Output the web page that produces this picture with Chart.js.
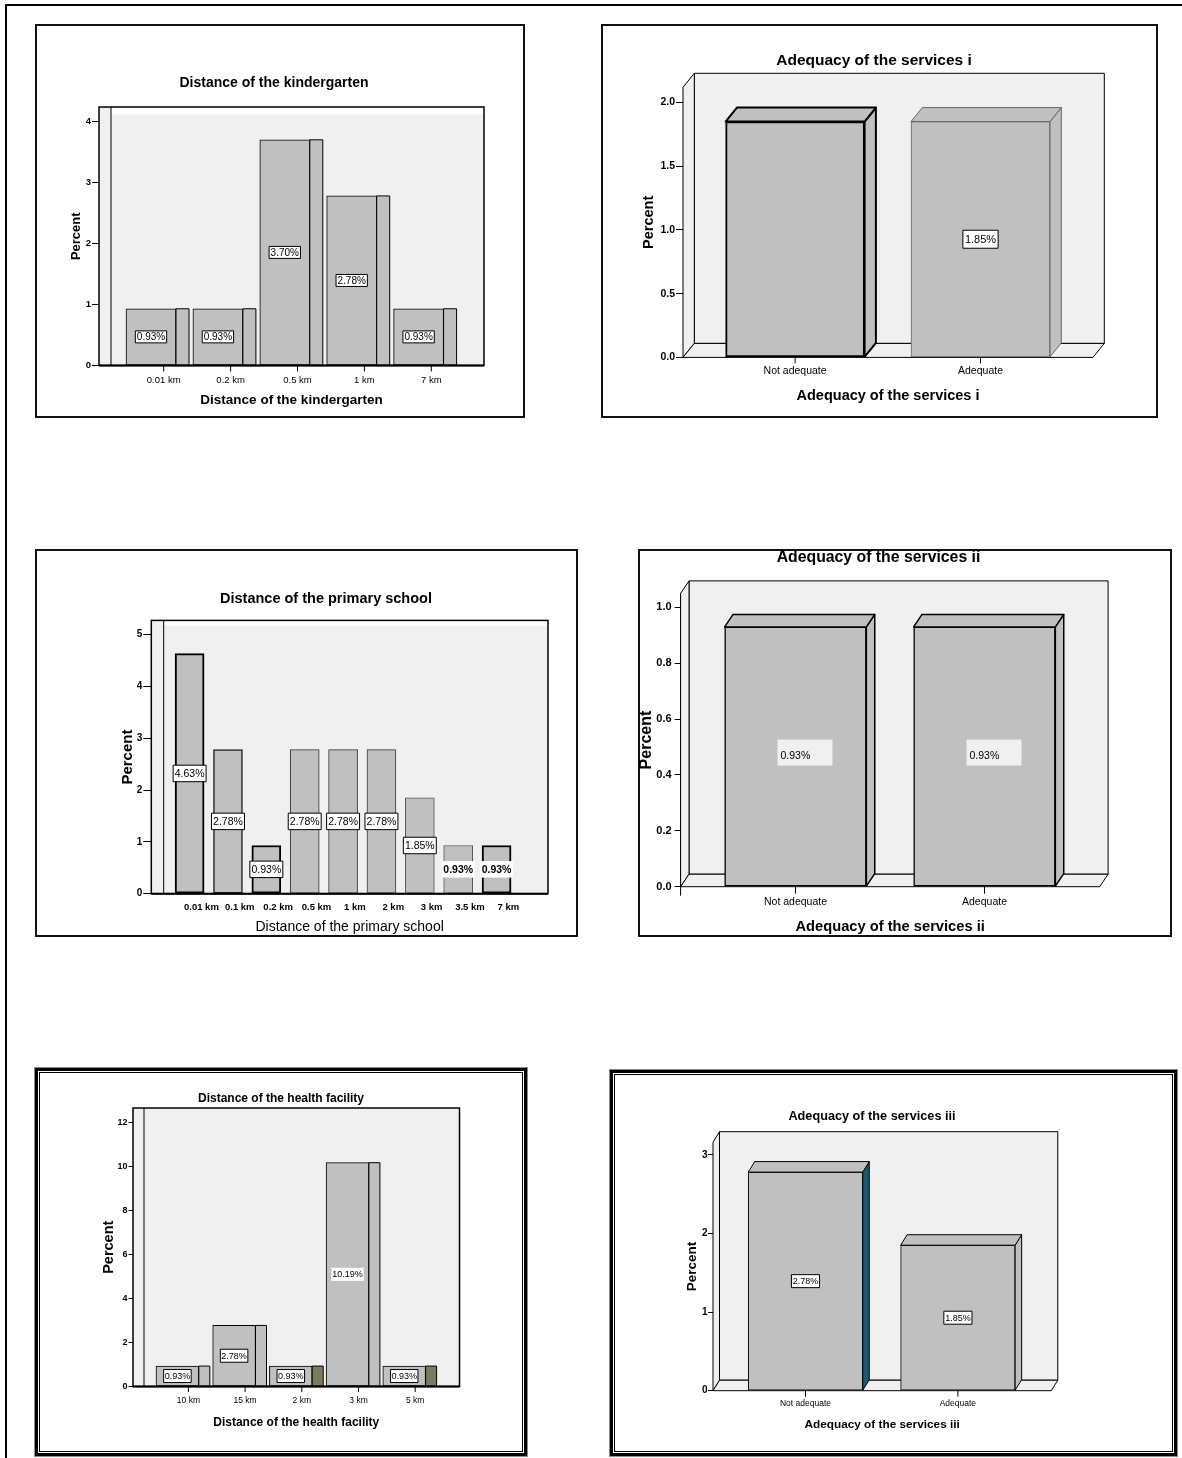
<!DOCTYPE html>
<html>
<head>
<meta charset="utf-8">
<script src="https://cdn.jsdelivr.net/npm/chart.js@4.4.1/dist/chart.umd.min.js"></script>
<style>
  body { margin: 0; background: #fff; width: 1182px; height: 1458px; overflow: hidden; position: relative; }
  .line { position: absolute; background: #000; }
  .box { position: absolute; box-sizing: border-box; }
  .single { border: 2px solid #111; }
  .double { border: 3px solid #000; box-shadow: 0 0 0 1px #8a8a8a, inset 0 0 0 1px #fff, inset 0 0 0 2px #000; }
  canvas { position: absolute; }
</style>
</head>
<body>
<div class="line" style="left:5px;top:4px;width:1177px;height:2px"></div>
<div class="line" style="left:5px;top:4px;width:2px;height:1454px"></div>
<script>
const FONT = '"Liberation Sans", Arial, sans-serif';
const BAR = "#c0c0c0";
const WALL = "#f0f0f0";

// DATA

// Distance of the kindergarten
const kgTitle = "Distance of the kindergarten";
const kgCategories = ["0.01 km", "0.2 km", "0.5 km", "1 km", "7 km"];
const kgPercent = [0.93, 0.93, 3.7, 2.78, 0.93];
const kgValueLabels = ["0.93%", "0.93%", "3.70%", "2.78%", "0.93%"];
const kgYTicks = [0, 1, 2, 3, 4];

// Adequacy of the services i
const adq1Title = "Adequacy of the services i";
const adq1Categories = ["Not adequate", "Adequate"];
const adq1Percent = [1.85, 1.85];
const adq1ValueLabels = ["", "1.85%"];
const adq1YTicks = [0, 0.5, 1, 1.5, 2];

// Distance of the primary school
const psTitle = "Distance of the primary school";
const psCategories = ["0.01 km", "0.1 km", "0.2 km", "0.5 km", "1 km", "2 km", "3 km", "3.5 km", "7 km"];
const psPercent = [4.63, 2.78, 0.93, 2.78, 2.78, 2.78, 1.85, 0.93, 0.93];
const psValueLabels = ["4.63%", "2.78%", "0.93%", "2.78%", "2.78%", "2.78%", "1.85%", "0.93%", "0.93%"];
const psYTicks = [0, 1, 2, 3, 4, 5];

// Adequacy of the services ii
const adq2Title = "Adequacy of the services ii";
const adq2Categories = ["Not adequate", "Adequate"];
const adq2Percent = [0.93, 0.93];
const adq2ValueLabels = ["0.93%", "0.93%"];
const adq2YTicks = [0, 0.2, 0.4, 0.6, 0.8, 1.0];

// Distance of the health facility
const hfTitle = "Distance of the health facility";
const hfCategories = ["10 km", "15 km", "2 km", "3 km", "5 km"];
const hfPercent = [0.93, 2.78, 0.93, 10.19, 0.93];
const hfValueLabels = ["0.93%", "2.78%", "0.93%", "10.19%", "0.93%"];
const hfYTicks = [0, 2, 4, 6, 8, 10, 12];

// Adequacy of the services iii
const adq3Title = "Adequacy of the services iii";
const adq3Categories = ["Not adequate", "Adequate"];
const adq3Percent = [2.78, 1.85];
const adq3ValueLabels = ["2.78%", "1.85%"];
const adq3YTicks = [0, 1, 2, 3];

// LAYOUT (page pixels)

const kgLayout = {
  box: { x: 35, y: 24, w: 490, h: 394, border: "single" },
  title: { x: 274, y: 83, size: 14 },
  frame: { left: 99, right: 484, top: 107, bottom: 365.5, wall: 12, strip: 7 },
  threeD: false, depthX: 13, depthY: 0,
  yMax: 4.238, yDecimals: 0, yTickLen: 7, yTickPad: 1, yTickFont: 9.5,
  yTitle: { x: 76, size: 13 },
  xFirst: 151, xPitch: 66.9, barWidth: 50,
  labelOffset: 12.7, xLabelY: 380, xTickFont: 9.5, xTickBold: false, xTickLen: 6,
  xTitle: { y: 400, size: 13.5, bold: true },
  edgeWidth: 1, edgeColor: "#000", sideColors: BAR,
  valueLabel: { size: 10, padX: 1.5, h: 12, styles: ["box", "box", "box", "box", "box"] },
};

const adq1Layout = {
  box: { x: 601, y: 24, w: 557, h: 394, border: "single" },
  title: { x: 874, y: 61, size: 15.5 },
  frame: { left: 683, right: 1093, top: 87.3, bottom: 357.4 },
  threeD: true, depthX: 11.3, depthY: 14,
  yMax: 2.119, yDecimals: 1, yTickLen: 7, yTickPad: 1, yTickFont: 10.5,
  yTitle: { x: 649, size: 14.5 },
  xFirst: 795.1, xPitch: 185.4, barWidth: 139,
  labelOffset: 0, xLabelY: 371, xTickFont: 10.5, xTickBold: false, xTickLen: 6,
  xTitle: { y: 395.7, size: 14.5, bold: true },
  edgeWidth: [2, 1], edgeColor: ["#000", "#666"], sideColors: BAR,
  valueLabel: { size: 11, padX: 2, h: 18, styles: ["box", "box"] },
};

const psLayout = {
  box: { x: 35, y: 549, w: 543, h: 388, border: "single" },
  title: { x: 326, y: 598.6, size: 14.5 },
  frame: { left: 151.3, right: 548, top: 620.4, bottom: 893.7, wall: 12.4, strip: 5.1 },
  threeD: false, depthX: 0, depthY: 0,
  yMax: 5.272, yDecimals: 0, yTickLen: 8, yTickPad: 1, yTickFont: 10,
  yTitle: { x: 128, size: 15 },
  xFirst: 189.6, xPitch: 38.37, barWidth: 29,
  labelOffset: 11.8, xLabelY: 907.8, xTickFont: 9.5, xTickBold: true, xTickLen: 0,
  xTitle: { y: 927.5, size: 14, bold: false },
  edgeWidth: [2, 1.5, 2, 1, 1, 1, 1, 1, 2],
  edgeColor: ["#000", "#222", "#000", "#333", "#333", "#333", "#555", "#555", "#000"],
  sideColors: BAR,
  valueLabel: { size: 10.5, padX: 1.6, h: 16.5, styles: ["box", "box", "box", "box", "box", "box", "box", "bold", "bold"] },
};

const adq2Layout = {
  box: { x: 638, y: 549, w: 534, h: 388, border: "single" },
  title: { x: 878.5, y: 557.3, size: 15.8 },
  frame: { left: 680.6, right: 1099.7, top: 593.4, bottom: 886.7 },
  threeD: true, depthX: 8.4, depthY: 12.5, axisExtend: 9,
  yMax: 1.05, yDecimals: 1, yTickLen: 6, yTickPad: 3, yTickFont: 11,
  yTitle: { x: 646.6, size: 16 },
  xFirst: 795.5, xPitch: 189, barWidth: 141.7,
  labelOffset: 0, xLabelY: 901.7, xTickFont: 10.5, xTickBold: false, xTickLen: 7,
  xTitle: { y: 927, size: 14.7, bold: true },
  edgeWidth: 1.5, edgeColor: "#000", sideColors: BAR,
  valueLabel: { size: 10.5, padX: 0, h: 26, styles: ["gray", "gray"] },
};

const hfLayout = {
  box: { x: 35, y: 1068, w: 492, h: 388, border: "double" },
  title: { x: 281, y: 1098.6, size: 12 },
  frame: { left: 133, right: 459.5, top: 1108, bottom: 1386.5, wall: 11, strip: 0 },
  threeD: false, depthX: 11, depthY: 0,
  yMax: 12.68, yDecimals: 0, yTickLen: 4.5, yTickPad: 1, yTickFont: 9,
  yTitle: { x: 109, size: 14.5 },
  xFirst: 177.4, xPitch: 56.7, barWidth: 42.8,
  labelOffset: 11, xLabelY: 1400.5, xTickFont: 8.5, xTickBold: false, xTickLen: 5.5,
  xTitle: { y: 1423, size: 12, bold: true },
  edgeWidth: 1, edgeColor: "#000", sideColors: [BAR, BAR, "#7e7a5b", BAR, "#7e7a5b"],
  valueLabel: { size: 9, padX: 1, h: 13, styles: ["box", "box", "box", "plain", "box"] },
};

const adq3Layout = {
  box: { x: 610, y: 1070, w: 567, h: 386, border: "double" },
  title: { x: 872, y: 1116.7, size: 12.7 },
  frame: { left: 713, right: 1051.3, top: 1142.2, bottom: 1390.7 },
  threeD: true, depthX: 6.5, depthY: 10.5,
  yMax: 3.16, yDecimals: 0, yTickLen: 5, yTickPad: 0.5, yTickFont: 10,
  yTitle: { x: 692.5, size: 13.5 },
  xFirst: 805.5, xPitch: 152.4, barWidth: 114.5,
  labelOffset: 0, xLabelY: 1403.3, xTickFont: 8.5, xTickBold: false, xTickLen: 6,
  xTitle: { y: 1424.5, size: 11.8, bold: true },
  edgeWidth: 1, edgeColor: "#000", sideColors: ["#1a5a70", BAR],
  valueLabel: { size: 9, padX: 1.3, h: 13, styles: ["box", "box"] },
};

// HELPERS

function pick(v, i) {
  return Array.isArray(v) ? v[i] : v;
}

function font(size, bold) {
  return { family: FONT, size: size, weight: bold ? "bold" : "normal", lineHeight: 1.2 };
}

function poly(ctx, pts, fill) {
  ctx.beginPath();
  ctx.moveTo(pts[0][0], pts[0][1]);
  for (let i = 1; i < pts.length; i++) ctx.lineTo(pts[i][0], pts[i][1]);
  ctx.closePath();
  if (fill) {
    ctx.fillStyle = fill;
    ctx.fill();
  }
  ctx.stroke();
}

function segment(ctx, x1, y1, x2, y2) {
  ctx.beginPath();
  ctx.moveTo(x1, y1);
  ctx.lineTo(x2, y2);
  ctx.stroke();
}

function drawValueLabel(ctx, text, cx, cy, style, o) {
  if (!text) return;
  ctx.font = (style === "bold" ? "bold " : "") + o.size + "px " + FONT;
  ctx.textBaseline = "middle";
  if (style === "gray") {
    // the light grey patch with left aligned text
    ctx.fillStyle = WALL;
    ctx.fillRect(cx - 18, cy - 17, 55, o.h);
    ctx.fillStyle = "#000";
    ctx.textAlign = "left";
    ctx.fillText(text, cx - 15, cy);
    return;
  }
  const w = ctx.measureText(text).width + o.padX * 2;
  ctx.fillStyle = "#fff";
  ctx.fillRect(cx - w / 2, cy - o.h / 2, w, o.h);
  if (style === "box") {
    ctx.lineWidth = 1;
    ctx.strokeStyle = "#000";
    ctx.strokeRect(cx - w / 2, cy - o.h / 2, w, o.h);
  }
  ctx.fillStyle = "#000";
  ctx.textAlign = "center";
  ctx.fillText(text, cx, cy + 0.5);
}

// the SPSS look: walls, bar depth, value boxes, title
function spssDecor(g, title, valueLabels) {
  const bx = g.box.x;
  const by = g.box.y;
  return {
    id: "spssDecor",
    beforeDatasetsDraw(chart) {
      const ctx = chart.ctx;
      const ca = chart.chartArea;
      ctx.save();
      ctx.lineWidth = 1;
      ctx.strokeStyle = "#000";
      if (g.threeD) {
        const dx = g.depthX;
        const dy = g.depthY;
        poly(ctx, [[ca.left + dx, ca.top - dy], [ca.right + dx, ca.top - dy], [ca.right + dx, ca.bottom - dy], [ca.left + dx, ca.bottom - dy]], WALL);
        poly(ctx, [[ca.left, ca.top], [ca.left + dx, ca.top - dy], [ca.left + dx, ca.bottom - dy], [ca.left, ca.bottom]], WALL);
        poly(ctx, [[ca.left, ca.bottom], [ca.left + dx, ca.bottom - dy], [ca.right + dx, ca.bottom - dy], [ca.right, ca.bottom]], WALL);
      } else {
        const f = g.frame;
        ctx.fillStyle = WALL;
        ctx.fillRect(ca.left, ca.top, f.wall, ca.bottom - ca.top);
        ctx.fillRect(ca.left + f.wall, ca.top + f.strip, ca.right - ca.left - f.wall, ca.bottom - ca.top - f.strip);
        ctx.lineWidth = 1.5;
        ctx.strokeRect(ca.left, ca.top, ca.right - ca.left, ca.bottom - ca.top);
        ctx.lineWidth = 1;
        segment(ctx, ca.left + f.wall, ca.top, ca.left + f.wall, ca.bottom);
      }
      ctx.restore();
    },
    afterDatasetsDraw(chart) {
      const ctx = chart.ctx;
      const ca = chart.chartArea;
      const bars = chart.getDatasetMeta(0).data;
      ctx.save();
      ctx.lineJoin = "round";
      bars.forEach((bar, i) => {
        const p = bar.getProps(["x", "y", "base", "width"], true);
        const l = p.x - p.width / 2;
        const r = p.x + p.width / 2;
        const dx = g.depthX;
        const dy = g.depthY;
        ctx.lineWidth = pick(g.edgeWidth, i);
        ctx.strokeStyle = pick(g.edgeColor, i);
        if (dx) {
          poly(ctx, [[r, p.y], [r + dx, p.y - dy], [r + dx, p.base - dy], [r, p.base]], pick(g.sideColors, i));
          if (dy) poly(ctx, [[l, p.y], [l + dx, p.y - dy], [r + dx, p.y - dy], [r, p.y]], BAR);
        }
        if (g.xTickLen) {
          ctx.lineWidth = 1;
          ctx.strokeStyle = "#000";
          const tx = p.x + g.labelOffset;
          segment(ctx, tx, ca.bottom, tx, ca.bottom + g.xTickLen);
        }
      });
      ctx.strokeStyle = "#000";
      if (!g.threeD) {
        ctx.lineWidth = 2;
        segment(ctx, ca.left, ca.bottom, ca.right, ca.bottom);
      }
      if (g.axisExtend) {
        ctx.lineWidth = 1;
        segment(ctx, ca.left, ca.bottom, ca.left, ca.bottom + g.axisExtend);
      }
      bars.forEach((bar, i) => {
        const p = bar.getProps(["x", "y", "base"], true);
        drawValueLabel(ctx, valueLabels[i], p.x, (p.y + p.base) / 2, g.valueLabel.styles[i], g.valueLabel);
      });
      ctx.font = "bold " + g.title.size + "px " + FONT;
      ctx.fillStyle = "#000";
      ctx.textAlign = "center";
      ctx.textBaseline = "middle";
      ctx.fillText(title, g.title.x - bx, g.title.y - by);
      ctx.restore();
    },
  };
}

function makeChart(g, title, categories, values, valueLabels, yTicks) {
  const bx = g.box.x;
  const by = g.box.y;

  const frameDiv = document.createElement("div");
  frameDiv.className = "box " + g.box.border;
  frameDiv.style.left = bx + "px";
  frameDiv.style.top = by + "px";
  frameDiv.style.width = g.box.w + "px";
  frameDiv.style.height = g.box.h + "px";
  document.body.appendChild(frameDiv);

  const canvas = document.createElement("canvas");
  canvas.width = g.box.w;
  canvas.height = g.box.h;
  canvas.style.left = bx + "px";
  canvas.style.top = by + "px";
  document.body.appendChild(canvas);

  const xMin = -(g.xFirst - g.frame.left) / g.xPitch;
  const xMax = (g.frame.right - g.xFirst) / g.xPitch;

  return new Chart(canvas, {
    type: "bar",
    data: {
      datasets: [
        {
          data: values.map((v, i) => ({ x: i, y: v })),
          backgroundColor: BAR,
          borderColor: categories.map((c, i) => pick(g.edgeColor, i)),
          borderWidth: categories.map((c, i) => pick(g.edgeWidth, i)),
          borderSkipped: false,
          barThickness: g.barWidth,
        },
      ],
    },
    options: {
      responsive: false,
      animation: false,
      events: [],
      layout: {
        padding: { left: 0, top: g.frame.top - by, right: bx + g.box.w - g.frame.right, bottom: 0 },
      },
      plugins: {
        legend: { display: false },
        tooltip: { enabled: false },
        title: { display: false },
      },
      scales: {
        x: {
          type: "linear",
          offset: false,
          min: xMin,
          max: xMax,
          afterFit: (s) => {
            s.height = by + g.box.h - g.frame.bottom;
          },
          afterBuildTicks: (s) => {
            s.ticks = categories.map((c, i) => ({ value: i }));
          },
          grid: { display: false, drawTicks: false },
          border: { display: false },
          ticks: {
            autoSkip: false,
            maxRotation: 0,
            minRotation: 0,
            labelOffset: g.labelOffset,
            padding: g.xLabelY - g.frame.bottom - 0.6 * g.xTickFont,
            font: font(g.xTickFont, g.xTickBold),
            color: "#000",
            callback: (v) => categories[v],
          },
          title: {
            display: true,
            text: title,
            color: "#000",
            font: font(g.xTitle.size, g.xTitle.bold),
            padding: { top: 0, bottom: by + g.box.h - g.xTitle.y - 0.6 * g.xTitle.size },
          },
        },
        y: {
          min: 0,
          max: g.yMax,
          afterFit: (s) => {
            s.width = g.frame.left - bx;
          },
          afterBuildTicks: (s) => {
            s.ticks = yTicks.map((v) => ({ value: v }));
          },
          grid: { drawOnChartArea: false, drawTicks: true, tickLength: g.yTickLen, color: "#000" },
          border: { display: true, color: "#000" },
          ticks: {
            padding: g.yTickPad,
            font: font(g.yTickFont, true),
            color: "#000",
            callback: (v) => v.toFixed(g.yDecimals),
          },
          title: {
            display: true,
            text: "Percent",
            color: "#000",
            font: font(g.yTitle.size, true),
            padding: { top: g.yTitle.x - bx - 0.6 * g.yTitle.size, bottom: 0 },
          },
        },
      },
    },
    plugins: [spssDecor(g, title, valueLabels)],
  });
}

Chart.defaults.font.family = FONT;
Chart.defaults.color = "#000";

makeChart(kgLayout, kgTitle, kgCategories, kgPercent, kgValueLabels, kgYTicks);
makeChart(adq1Layout, adq1Title, adq1Categories, adq1Percent, adq1ValueLabels, adq1YTicks);
makeChart(psLayout, psTitle, psCategories, psPercent, psValueLabels, psYTicks);
makeChart(adq2Layout, adq2Title, adq2Categories, adq2Percent, adq2ValueLabels, adq2YTicks);
makeChart(hfLayout, hfTitle, hfCategories, hfPercent, hfValueLabels, hfYTicks);
makeChart(adq3Layout, adq3Title, adq3Categories, adq3Percent, adq3ValueLabels, adq3YTicks);
</script>
</body>
</html>
